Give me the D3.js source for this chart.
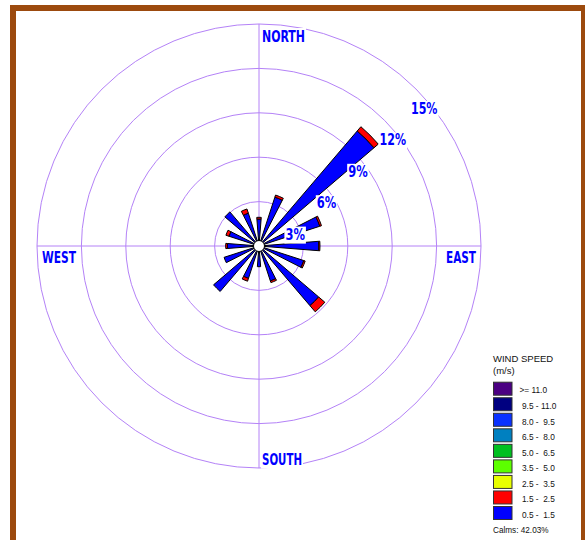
<!DOCTYPE html>
<html>
<head>
<meta charset="utf-8">
<script src="https://cdn.jsdelivr.net/npm/d3@7"></script>
<style>
  html, body { margin: 0; padding: 0; background: #ffffff; }
  svg { display: block; }
  text { white-space: pre; }
</style>
</head>
<body>
<svg id="rose" width="585" height="540"></svg>
<script>
// Wind rose: frequency (%) of wind by direction, stacked by speed class
const directions = ["N","NNE","NE","ENE","E","ESE","SE","SSE","S","SSW","SW","WSW","W","WNW","NW","NNW"];
const speed05to15 = [1.82, 3.47, 10.22, 4.32, 4.04, 3.18, 5.30, 2.48, 1.40, 2.30, 4.04, 2.48, 2.13, 2.13, 3.03, 2.33];
const speed15to25 = [0.12, 0.15, 0.38, 0.12, 0.08, 0.10, 0.55, 0.12, 0.00, 0.20, 0.00, 0.00, 0.12, 0.22, 0.00, 0.30];
const speedClasses = [">= 11.0", "9.5 - 11.0", "8.0 -  9.5", "6.5 -  8.0", "5.0 -  6.5", "3.5 -  5.0", "2.5 -  3.5", "1.5 -  2.5", "0.5 -  1.5"];
const classColors = ["#4b0082", "#000080", "#0a32ff", "#0080c0", "#00c020", "#5cff00", "#e8ff00", "#ff0000", "#0000ff"];
const ringTicks = [3, 6, 9, 12, 15];
const compassLabels = ["NORTH", "EAST", "SOUTH", "WEST"];
const calmsPct = 42.03;

const svg = d3.select("#rose");
const cx = 259, cy = 246;
const gridColor = "#b482f7";
const labelBlue = "#0000ff";
const narrow = "'Liberation Sans Narrow', 'Arial Narrow', 'DejaVu Sans Condensed', sans-serif";

// brown frame (runs off the right and bottom edges)
svg.append("rect").attr("x", 10).attr("y", 5).attr("width", 580).attr("height", 545).attr("fill", "#9c4a0e");
svg.append("rect").attr("x", 16).attr("y", 11).attr("width", 565).attr("height", 545).attr("fill", "#ffffff");

const r = d3.scaleLinear().domain([0, 15]).range([0, 222]);
const g = svg.append("g").attr("transform", `translate(${cx},${cy})`);

// rings
g.selectAll("circle.ring").data(ringTicks).join("circle")
  .attr("class", "ring")
  .attr("r", d => r(d))
  .attr("fill", "none")
  .attr("stroke", gridColor)
  .attr("stroke-width", 1);

// cross axes
const R = r(d3.max(ringTicks));
g.append("line").attr("x1", -R).attr("x2", R).attr("y1", 0).attr("y2", 0)
  .attr("stroke", gridColor).attr("stroke-width", 1);
g.append("line").attr("x1", 0).attr("x2", 0).attr("y1", -R).attr("y2", R)
  .attr("stroke", gridColor).attr("stroke-width", 1);

// petals
const angle = d3.scaleBand().domain(directions).range([-Math.PI / 16, 2 * Math.PI - Math.PI / 16]);
const halfWidth = (9 / 2) * Math.PI / 180;
const petalSegments = [];
directions.forEach((dir, i) => {
  const a = angle(dir) + angle.bandwidth() / 2;
  const layers = [
    { value: speed05to15[i], color: classColors[8] },
    { value: speed15to25[i], color: classColors[7] }
  ];
  let base = 0;
  layers.forEach(l => {
    if (l.value > 0) {
      petalSegments.push({ a, from: base, to: base + l.value, color: l.color });
      base += l.value;
    }
  });
});
const arc = d3.arc()
  .innerRadius(d => r(d.from))
  .outerRadius(d => r(d.to))
  .startAngle(d => d.a - halfWidth)
  .endAngle(d => d.a + halfWidth);
g.selectAll("path.petal").data(petalSegments).join("path")
  .attr("class", "petal")
  .attr("d", arc)
  .attr("fill", d => d.color)
  .attr("stroke", "#000000")
  .attr("stroke-width", 1)
  .attr("stroke-linejoin", "miter");

// calm circle
g.append("circle").attr("r", 5.5).attr("fill", "#ffffff").attr("stroke", "#000000").attr("stroke-width", 1);

// label with white box behind it
function boxedText(parent, x, y, str, size, len, anchor) {
  const grp = parent.append("g");
  const bg = grp.append("rect").attr("fill", "#ffffff");
  const t = grp.append("text")
    .attr("x", x).attr("y", y)
    .attr("text-anchor", anchor || "start")
    .attr("font-family", narrow)
    .attr("font-weight", "bold")
    .attr("font-size", size)
    .attr("fill", labelBlue)
    .attr("textLength", len)
    .attr("lengthAdjust", "spacingAndGlyphs")
    .text(str);
  const b = t.node().getBBox();
  bg.attr("x", b.x - 1).attr("y", b.y + 1).attr("width", b.width + 2).attr("height", b.height - 1);
  return grp;
}

// compass labels
const compassPos = {
  NORTH: { x: 3, y: -R + 18, len: 43, anchor: "start" },
  EAST:  { x: R - 5, y: 17, len: 30, anchor: "end" },
  SOUTH: { x: 3, y: R - 3.5, len: 40, anchor: "start" },
  WEST:  { x: -R + 5, y: 17, len: 34, anchor: "start" }
};
compassLabels.forEach(lbl => {
  const p = compassPos[lbl];
  boxedText(g, p.x, p.y, lbl, 16, p.len, p.anchor);
});

// ring percentage labels along the north-east diagonal
ringTicks.forEach(t => {
  const rr = r(t);
  const px = rr * Math.SQRT1_2 - 5;
  const py = -rr * Math.SQRT1_2 + 25;
  const str = t + "%";
  boxedText(g, px, py, str, 15.5, str.length === 2 ? 19.5 : 26.5, "start");
});

// legend
const lg = svg.append("g").attr("transform", "translate(493,0)");
lg.append("text").attr("x", 0).attr("y", 362)
  .attr("font-family", "'Liberation Sans', Arial, sans-serif").attr("font-size", 9.5).attr("fill", "#111")
  .text("WIND SPEED");
lg.append("text").attr("x", 0).attr("y", 373.5)
  .attr("font-family", "'Liberation Sans', Arial, sans-serif").attr("font-size", 9.5).attr("fill", "#111")
  .text("(m/s)");
const rowY = d3.scalePoint().domain(speedClasses).range([381.7, 506]);
const rows = lg.selectAll("g.row").data(speedClasses).join("g").attr("class", "row")
  .attr("transform", d => `translate(0,${rowY(d)})`);
rows.append("rect")
  .attr("x", 0.5).attr("y", 0.5).attr("width", 18.5).attr("height", 13)
  .attr("fill", (d, i) => classColors[i])
  .attr("stroke", "#333333").attr("stroke-width", 1);
rows.append("text")
  .attr("x", (d, i) => i === 0 ? 26.5 : 29)
  .attr("y", 11.8)
  .attr("font-family", "'Liberation Sans', Arial, sans-serif")
  .attr("font-size", 8.3)
  .attr("fill", "#111")
  .text(d => d);
lg.append("text").attr("x", 0).attr("y", 532.5)
  .attr("font-family", "'Liberation Sans', Arial, sans-serif").attr("font-size", 8.2).attr("fill", "#111")
  .text("Calms: " + calmsPct.toFixed(2) + "%");
</script>
</body>
</html>
